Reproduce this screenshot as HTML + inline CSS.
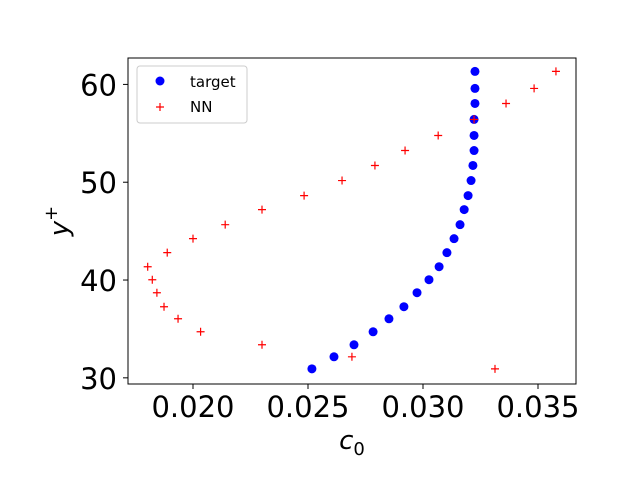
<!DOCTYPE html>
<html><head><meta charset="utf-8"><style>
body{margin:0;background:#fff}
text{font-family:"DejaVu Sans","Liberation Sans",sans-serif}
</style></head><body>
<svg id="chart" width="640" height="480" xmlns="http://www.w3.org/2000/svg">
<rect width="640" height="480" fill="#fff"/>
<g id="marks"></g>
<rect x="128" y="58" width="448" height="326" fill="none" stroke="#000" stroke-width="1"/>
<g id="xt"></g><g id="yt"></g>
<text x="352" y="449" font-size="26" text-anchor="middle" font-style="italic">c<tspan font-size="18" dy="6" font-style="normal">0</tspan></text>
<text transform="translate(68,221) rotate(-90)" font-size="26" text-anchor="middle" font-style="italic">y<tspan font-size="18" dy="-11" font-style="normal">+</tspan></text>
<g>
<rect x="137" y="66" width="110" height="57" rx="3" fill="#fff" stroke="#ccc"/>
<circle cx="160" cy="81" r="4.5" fill="#0000ff"/>
<text x="190" y="87" font-size="15">target</text>
<path d="M156 107h8M160 103v8" stroke="#ff0000" stroke-width="1.2"/>
<text x="190" y="112" font-size="15">NN</text>
</g>
</svg>
<script>
const yVals=[30.92,32.15,33.38,34.71,36.04,37.27,38.70,40.03,41.36,42.80,44.23,45.66,47.2,48.63,50.17,51.71,53.24,54.78,56.42,58.05,59.59,61.33];
const targetX=[0.02517,0.02613,0.02700,0.02783,0.02852,0.02917,0.02974,0.03026,0.03070,0.03104,0.03135,0.03161,0.03179,0.03196,0.03209,0.03217,0.03222,0.03222,0.03222,0.03226,0.03226,0.03226];
const nnX=[0.03313,0.02691,0.02300,0.02033,0.01935,0.01874,0.01843,0.01823,0.01803,0.01888,0.02000,0.02140,0.02300,0.02483,0.02648,0.02791,0.02922,0.03066,0.03222,0.03361,0.03483,0.03578];
const xTicks=[0.020,0.025,0.030,0.035];
const xTickLabels=["0.020","0.025","0.030","0.035"];
const yTicks=[30,40,50,60];
const yTickLabels=["30","40","50","60"];
const X0=0.017174,X1=0.036652,Y0=29.37,Y1=62.70;
const sx=v=>128+(v-X0)/(X1-X0)*448;
const sy=v=>384-(v-Y0)/(Y1-Y0)*326;
const NS="http://www.w3.org/2000/svg";
const m=document.getElementById('marks');
function mk(t,a,p){const e=document.createElementNS(NS,t);for(const k in a)e.setAttribute(k,a[k]);p.appendChild(e);return e;}
yVals.forEach((y,i)=>{
 const c=mk('circle',{cx:sx(targetX[i]),cy:sy(y),r:4.5,fill:'#0000ff'},m);
 
 
 const px=sx(nnX[i]),py=sy(y);
 const p=mk('path',{d:`M${px-4} ${py}h8M${px} ${py-4}v8`,stroke:'#ff0000','stroke-width':1.2},m);
 
 
});
const xt=document.getElementById('xt');
xTicks.forEach((v,i)=>{
 const l=mk('line',{x1:sx(v),x2:sx(v),y1:384,y2:389,stroke:'#000'},xt);
 
 
 const t=mk('text',{x:sx(v),y:417,'font-size':29,'text-anchor':'middle'},xt);
 t.textContent=xTickLabels[i];
 
 
});
const yt=document.getElementById('yt');
yTicks.forEach((v,i)=>{
 const l=mk('line',{x1:123,x2:128,y1:sy(v),y2:sy(v),stroke:'#000'},yt);
 
 
 const t=mk('text',{x:117,y:sy(v)+11,'font-size':29,'text-anchor':'end'},yt);
 t.textContent=yTickLabels[i];
 
 
});
</script>
</body></html>
